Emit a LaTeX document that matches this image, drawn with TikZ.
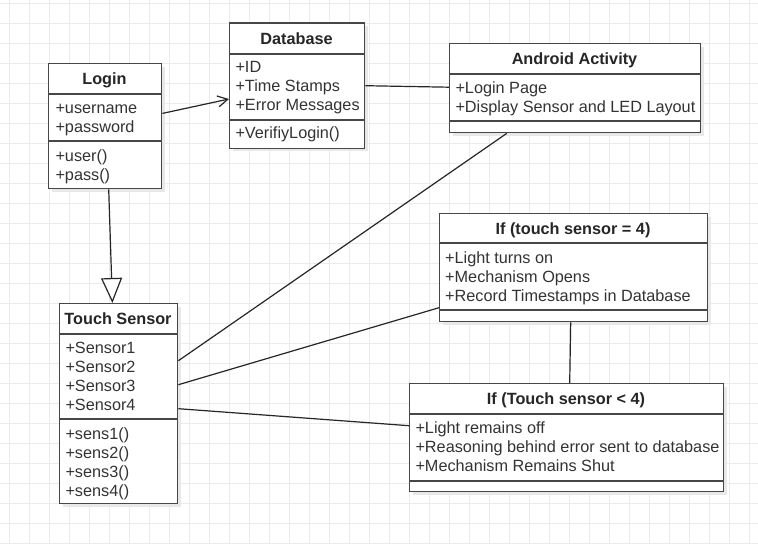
\documentclass[tikz,border=0pt]{standalone}
\usepackage{fontspec}
\setmainfont{Liberation Sans}
\usetikzlibrary{arrows.meta,shadows,calc}
\tikzset{
 cls/.style={draw=black!72, line width=1.4pt, fill=white, rectangle, inner sep=0pt, anchor=north west,
   drop shadow={shadow xshift=3pt, shadow yshift=-3pt, fill=black!9, opacity=1}},
 sepline/.style={draw=black!72, line width=1.4pt},
 hdr/.style={font=\fontsize{16.25}{19}\selectfont\bfseries, text=black!85, inner sep=0pt, anchor=base},
 txt/.style={font=\fontsize{16.25}{19}\selectfont, text=black!80, inner sep=0pt, anchor=base west},
 conn/.style={draw=black!85, line width=1.2pt},
 gridline/.style={draw=black!8, line width=0.8pt}
}
% #1 name, #2 left, #3 top, #4 right, #5 header bottom, #6 separator, #7 bottom
\newcommand{\umlcls}[7]{%
 \node[cls, minimum width={#4-#2}, minimum height={#7-#3}] (#1) at (#2,#3) {};
 \draw[sepline] (#2,#5) -- (#4,#5);
 \draw[sepline] (#2,#6) -- (#4,#6);
}
\begin{document}
\begin{tikzpicture}[x=1pt,y=-1pt]
\useasboundingbox (0,0) rectangle (758,544);
\fill[white] (0,0) rectangle (758,544);
\foreach \x in {9,29,...,749} \draw[gridline] (\x,0) -- (\x,544);
\foreach \y in {3,23,...,543} \draw[gridline] (0,\y) -- (758,\y);

% Login
\umlcls{login}{48}{63}{161}{94}{141}{188}
\node[hdr] (loginH) at (104.5,84.5) {Login};
\node[txt] (loginA1) at (55.3,113) {+username};
\node[txt] (loginA2) at (55.3,132) {+password};
\node[txt] (loginM1) at (55.3,161) {+user()};
\node[txt] (loginM2) at (55.3,180) {+pass()};

% Database
\umlcls{db}{229}{22.3}{364}{54}{120}{147.7}
\node[hdr] (dbH) at (296.5,44) {Database};
\node[txt] (dbA1) at (235.3,72.7) {+ID};
\node[txt] (dbA2) at (235.3,91.7) {+Time Stamps};
\node[txt] (dbA3) at (235.3,110.5) {+Error Messages};
\node[txt] (dbM1) at (235.3,138) {+VerifiyLogin()};

% Android Activity
\umlcls{android}{449}{43}{700}{74}{121}{132}
\node[hdr] (androidH) at (574.5,64.5) {Android Activity};
\node[txt] (androidA1) at (455.3,93.3) {+Login Page};
\node[txt] (androidA2) at (455.3,112) {+Display Sensor and LED Layout};

% Touch Sensor
\umlcls{touch}{59}{303}{177}{334}{419}{503}
\node[hdr] (touchH) at (118,324.5) {Touch Sensor};
\node[txt] (touchA1) at (65.3,353) {+Sensor1};
\node[txt] (touchA2) at (65.3,372) {+Sensor2};
\node[txt] (touchA3) at (65.3,391) {+Sensor3};
\node[txt] (touchA4) at (65.3,410) {+Sensor4};
\node[txt] (touchM1) at (65.3,439) {+sens1()};
\node[txt] (touchM2) at (65.3,458) {+sens2()};
\node[txt] (touchM3) at (65.3,477) {+sens3()};
\node[txt] (touchM4) at (65.3,496) {+sens4()};

% If (touch sensor = 4)
\umlcls{ifeq}{439}{213}{707}{243}{310}{321}
\node[hdr] (ifeqH) at (573,234) {If (touch sensor = 4)};
\node[txt] (ifeqA1) at (445,263.3) {+Light turns on};
\node[txt] (ifeqA2) at (445,282.3) {+Mechanism Opens};
\node[txt] (ifeqA3) at (445,301) {+Record Timestamps in Database};

% If (Touch sensor < 4)
\umlcls{iflt}{409}{383}{723}{414}{481}{491}
\node[hdr] (ifltH) at (566,404.5) {If (Touch sensor < 4)};
\node[txt] (ifltA1) at (415.3,433.7) {+Light remains off};
\node[txt] (ifltA2) at (415.3,452.7) {+Reasoning behind error sent to database};
\node[txt] (ifltA3) at (415.3,471.7) {+Mechanism Remains Shut};

% connectors
\draw[conn, -{Straight Barb[length=10pt,width=11pt,line width=1.2pt]}]
  ([yshift=12.8pt]login.east) -- ([yshift=-13.3pt]db.west);
\draw[conn] (db.east) -- ([yshift=1pt]android.west);
\draw[conn, -{Triangle[open,length=25pt,width=21pt,fill=white,line width=1.2pt]}]
  ([xshift=3.5pt]login.south) -- ([xshift=-6.3pt]touch.north);
\draw[conn] ([yshift=43pt]touch.east) -- ([xshift=-68.5pt]android.south);
\draw[conn] ([yshift=19pt]touch.east) -- ([yshift=-40pt]ifeq.west);
\draw[conn] ([yshift=-5pt]touch.east) -- ([yshift=12pt]iflt.west);
\draw[conn] ([xshift=-3pt]ifeq.south) -- ([xshift=3pt]iflt.north);
\end{tikzpicture}
\end{document}
